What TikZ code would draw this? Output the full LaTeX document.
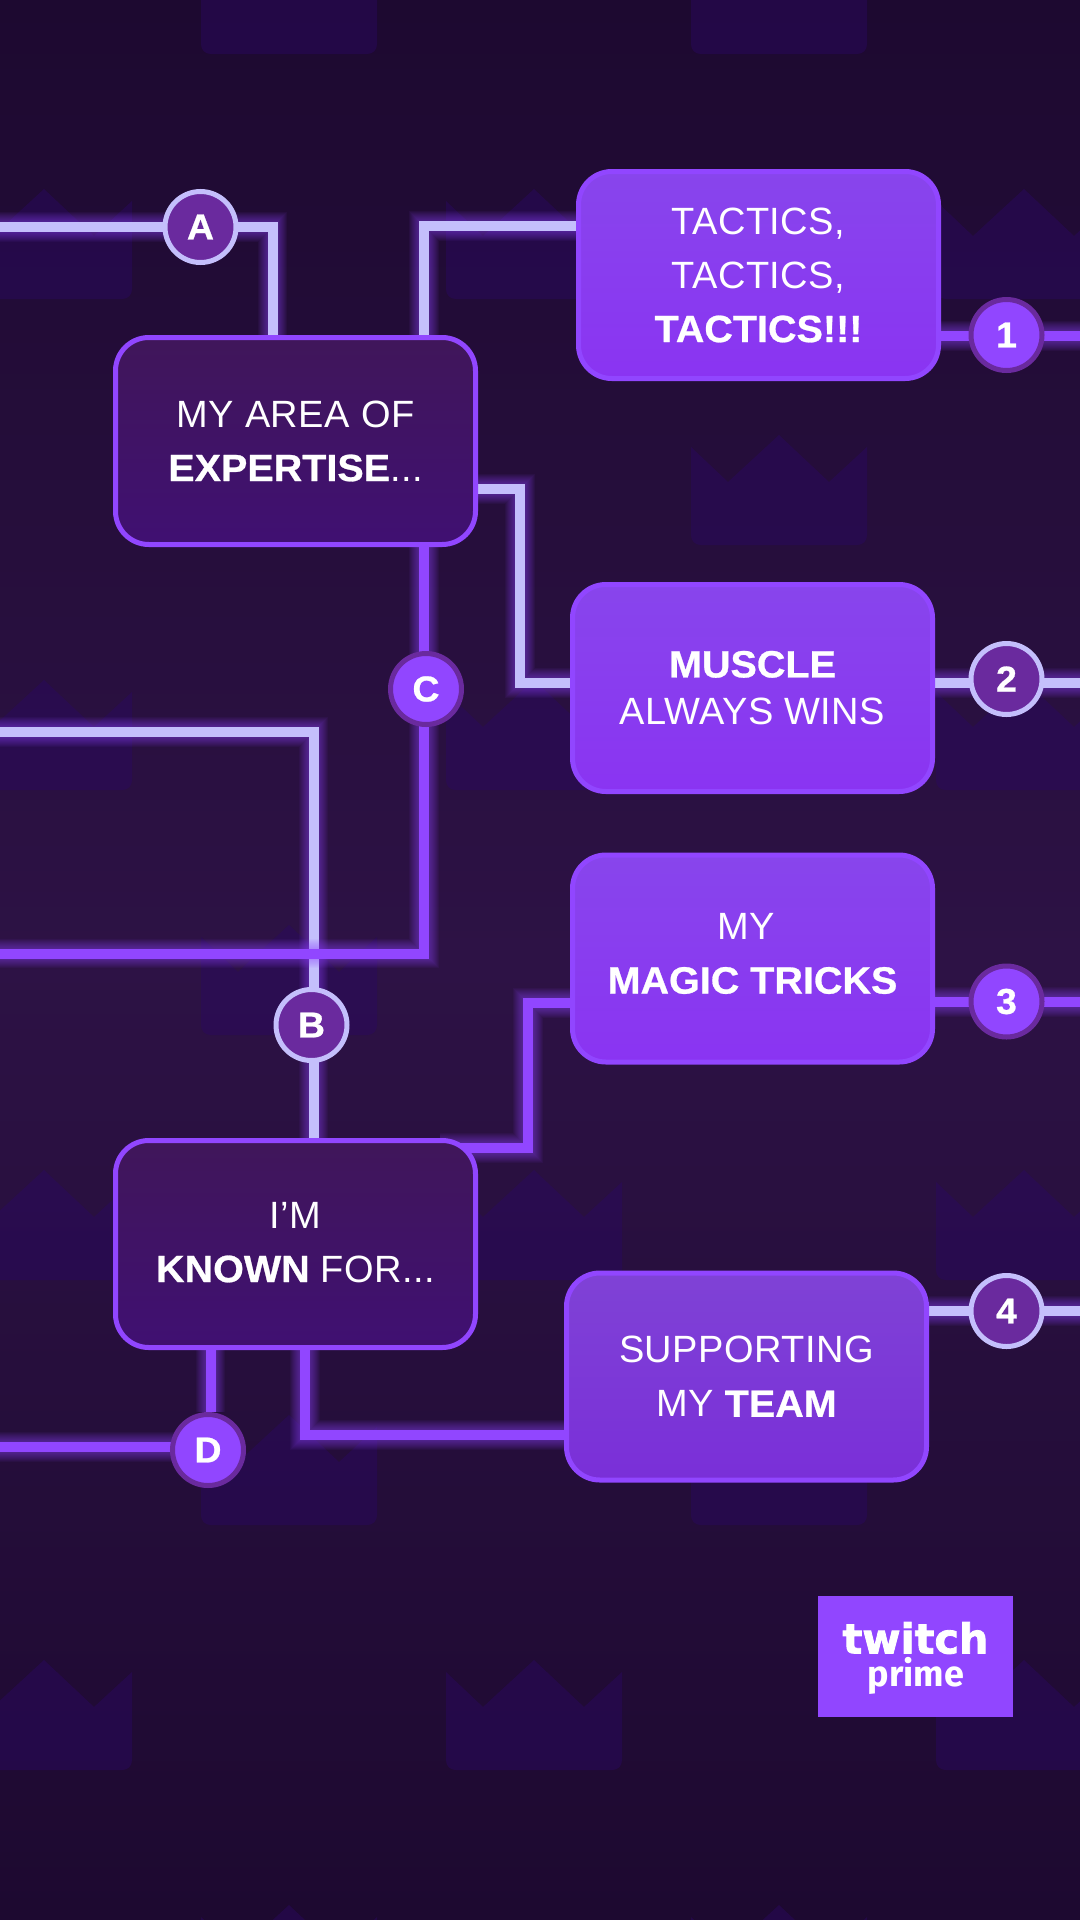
\documentclass[tikz,border=0pt]{standalone}
\usepackage{fontspec}
\setmainfont{Liberation Sans}
\newfontfamily\lightf[LetterSpace=1.2]{Liberation Sans}
\newfontfamily\heavyf[FakeBold=0.7,FakeStretch=1.04]{Liberation Sans Bold}
\newfontfamily\logof[FakeBold=2]{DejaVu Sans Bold}
\newfontfamily\primef{Fira Sans Bold}
\usetikzlibrary{calc}
\definecolor{twitch}{HTML}{9146FF}
\definecolor{lav}{HTML}{C4BFFC}
\definecolor{ringdark}{HTML}{6A2A9E}
\definecolor{crownc}{HTML}{2A0860}
\pgfdeclarelayer{bgl}\pgfdeclarelayer{wirel}
\pgfsetlayers{bgl,wirel,main}
\tikzset{
  glowstroke/.style={preaction={draw=twitch,line width=#1,opacity=.055}},
  wire/.style={line width=7.5pt,miter limit=10,
    glowstroke=22pt,glowstroke=20.5pt,glowstroke=19pt,glowstroke=17.5pt,glowstroke=16pt,
    glowstroke=14.5pt,glowstroke=13pt,glowstroke=11.5pt,glowstroke=10pt,glowstroke=9pt},
  lavwire/.style={wire,draw=lav},
  purwire/.style={wire,draw=twitch},
  card/.style={rectangle,rounded corners=25pt,draw=twitch,line width=3.75pt,
    minimum width=270pt,minimum height=155.25pt,inner sep=0pt,align=center,text=white,
    font=\fontsize{28.5}{40.5}\selectfont\lightf},
  darkcard/.style={card,top color=dtop,bottom color=dbot},
  brightcard/.style={card,top color=btop,bottom color=bbot},
  softcard/.style={card,top color=stop,bottom color=sbot},
  badge/.style={circle,line width=3.75pt,minimum size=53.25pt,inner sep=0pt,text=white,
    font=\fontsize{27}{27}\selectfont\heavyf},
  badgedark/.style={badge,draw=lav,fill=ringdark},
  badgelight/.style={badge,draw=ringdark,fill=twitch},
  crownshape/.style={fill=crownc,opacity=.48},
  crown/.pic={
    \fill[crownshape] (-88,12) -- (-51,47) -- (0,0) -- (50,47) -- (88,12) -- (88,100)
      .. controls (88,106) and (84,110) .. (78,110) -- (-78,110)
      .. controls (-84,110) and (-88,106) .. (-88,100) -- cycle;
  }
}
\definecolor{dtop}{HTML}{40165A}
\definecolor{dbot}{HTML}{401072}
\definecolor{btop}{HTML}{8845EC}
\definecolor{bbot}{HTML}{8A34F2}
\definecolor{stop}{HTML}{7F42D6}
\definecolor{sbot}{HTML}{7A2FD8}
\definecolor{bgend}{HTML}{1D0930}
\definecolor{bgmid}{HTML}{2D1245}
\newcommand{\hv}[1]{{\heavyf #1}}
\begin{document}
\begin{tikzpicture}[x=0.75pt,y=-0.75pt]
\useasboundingbox (0,0) rectangle (1080,1920);
\begin{pgfonlayer}{bgl}
  \shade[top color=bgend,bottom color=bgend,middle color=bgmid] (0,0) rectangle (1080,1920);
  \foreach \t in {-56,435,925,1415,1905}
    \foreach \c in {289,779}
      \pic at (\c,\t) {crown};
  \foreach \t in {189,680,1170,1660}
    \foreach \c in {44,534,1024}
      \pic at (\c,\t) {crown};
\end{pgfonlayer}

\node[darkcard] (expertise) at (295.5,441) {MY AREA OF\\\hv{EXPERTISE}...};
\node[darkcard] (known) at (295.5,1244) {I’M\\\hv{KNOWN} FOR...\rule[-3pt]{0pt}{0pt}};
\node[brightcard] (tactics) at (758.5,275) {TACTICS,\\TACTICS,\\\hv{TACTICS!!!}};
\node[brightcard] (muscle) at (752.5,688) {\hv{MUSCLE}\\[-5pt]ALWAYS WINS};
\node[brightcard] (magic) at (752.5,958.5) {MY\hspace*{10pt}\\\hv{MAGIC TRICKS}\rule[-7.5pt]{0pt}{0pt}};
\node[softcard] (support) at (746.5,1376.5) {SUPPORTING\\MY \hv{TEAM}};

\node[badgedark] (A) at (200.5,227) {A};
\node[badgedark] (B) at (311.5,1025) {B};
\node[badgelight] (C) at (426,689) {C};
\node[badgelight] (D) at (208,1450) {D};
\node[badgelight] (n1) at (1006.5,335) {1};
\node[badgedark] (n2) at (1006.5,679) {2};
\node[badgelight] (n3) at (1006.5,1001.5) {3};
\node[badgedark] (n4) at (1006.5,1311) {4};

\node[fill=twitch,minimum width=146.25pt,minimum height=90.75pt,inner sep=0pt] (logo) at (915.5,1656.5) {};
\node[text=white,font=\fontsize{31}{31}\selectfont\logof,inner sep=0pt] (logotw) at (915.5,1638) {twitch};
\node[text=white,font=\fontsize{27}{27}\selectfont\primef,inner sep=0pt] (logopr) at (916,1676) {prime};

\coordinate (a0) at (0,227);
\coordinate (aE) at (272.5,350);
\coordinate (tE) at (424,350);
\coordinate (eM) at (520,683);
\coordinate (eR) at (470,489);
\coordinate (bL) at (0,732);
\coordinate (bK) at (313.5,1150);
\coordinate (cE) at (424,540);
\coordinate (cL) at (0,953.5);
\coordinate (cT) at (424,953.5);
\coordinate (dL) at (0,1447);
\coordinate (dK) at (210.5,1340);
\coordinate (sK) at (305,1340);
\coordinate (sC) at (305,1435);
\coordinate (kM) at (440,1148);
\coordinate (kX) at (528,1148);
\coordinate (r1) at (1080,336);
\coordinate (r2) at (1080,683);
\coordinate (r3) at (1080,1002);
\coordinate (r4) at (1080,1311);

\begin{pgfonlayer}{wirel}
  \draw[lavwire] (a0) -- (A.center) -- (A.center -| aE) -- (aE);
  \draw[lavwire] (tactics.west |- 0,226) -- (tE |- 0,226) -- (tE);
  \draw[lavwire] (eR) -- (eM |- eR) -- (eM) -- (muscle.west |- eM);
  \draw[lavwire] (muscle.east |- r2) -- (r2);
  \draw[lavwire] (support.east |- r4) -- (r4);
  \draw[lavwire] (bL) -- (bK |- bL) -- (bK);
  \draw[purwire] (tactics.east |- r1) -- (r1);
  \draw[purwire] (magic.east |- r3) -- (r3);
  \draw[purwire] (kM) -- (kX) -- (kX |- 0,1003) -- (magic.west |- 0,1003);
  \draw[purwire] (cE) -- (cT) -- (cL);
  \draw[purwire] (dL) -- (dL -| D.center) -- (D.center);
  \draw[purwire] (dK) -- (dK |- D.north);
  \draw[purwire] (sK) -- (sC) -- (support.west |- sC);
\end{pgfonlayer}
\end{tikzpicture}
\end{document}
